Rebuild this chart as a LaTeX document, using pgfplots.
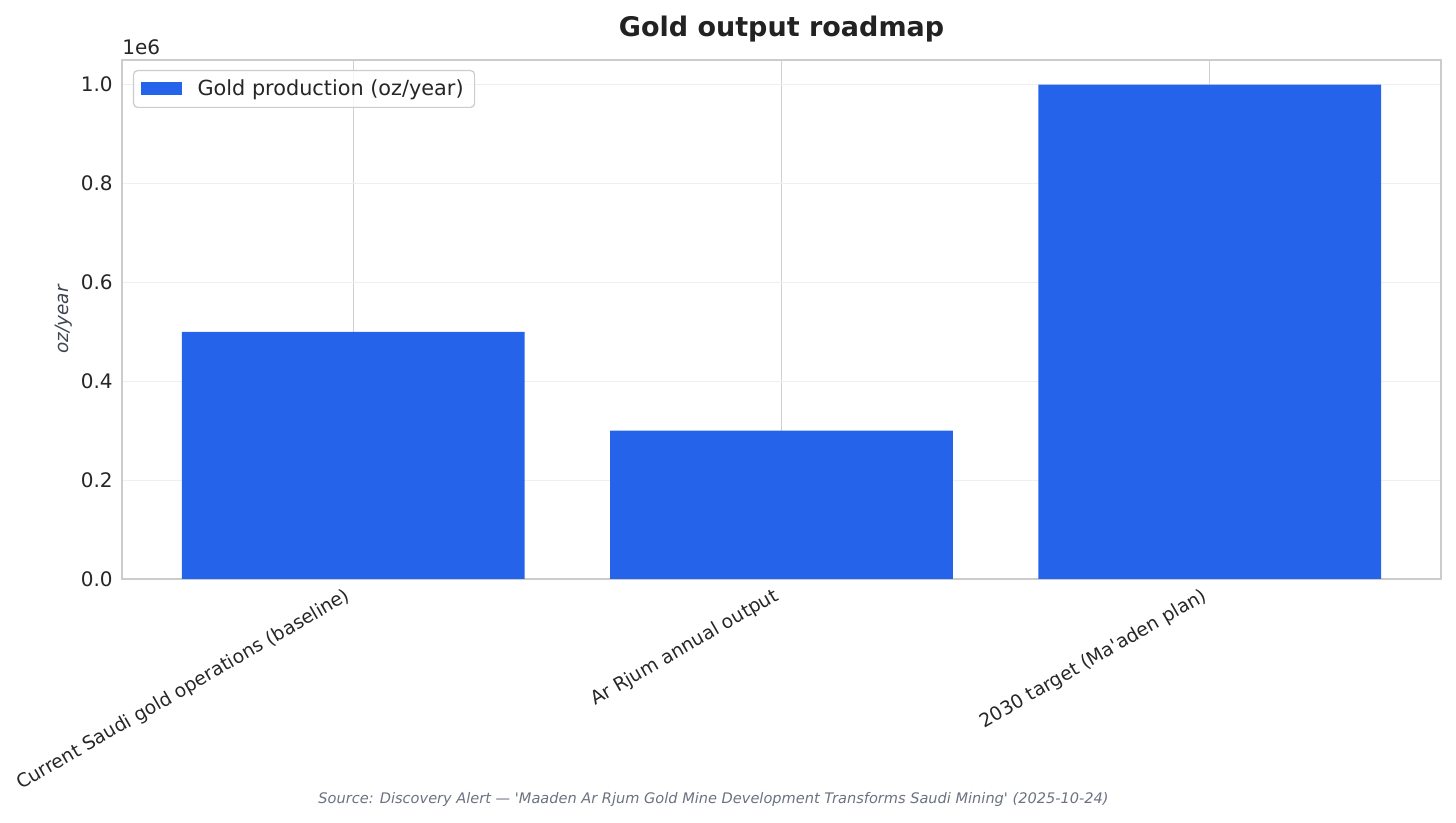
\documentclass[border=0pt]{standalone}
\usepackage{pgfplots}
\pgfplotsset{compat=1.18}
\usepackage{fontspec}
\setmainfont{DejaVu Sans}
\definecolor{barblue}{HTML}{2563EB}
\definecolor{gridx}{HTML}{D0D0D0}
\definecolor{gridy}{HTML}{EFEFEF}
\definecolor{framecol}{HTML}{CCCCCC}
\definecolor{textcol}{HTML}{262626}
\definecolor{titlecol}{HTML}{222222}
\definecolor{labelcol}{HTML}{3F4451}
\definecolor{sourcecol}{HTML}{6B7280}
\begin{document}
\begin{tikzpicture}
\path[use as bounding box] (0,0) rectangle (728pt,411.5pt);
\begin{axis}[
  at={(61pt,122pt)}, anchor=south west,
  scale only axis, width=659.5pt, height=259.5pt,
  clip=false,
  xmin=-0.54, xmax=2.54, ymin=0, ymax=1050000,
  ybar, bar width=0.8,
  xtick={0,1,2},
  xticklabels={Current Saudi gold operations (baseline),Ar Rjum annual output,2030 target (Ma\textquotesingle aden plan)},
  ytick={0,200000,400000,600000,800000,1000000},
  yticklabels={0.0,0.2,0.4,0.6,0.8,1.0},
  scaled y ticks=false,
  major tick length=0pt,
  xmajorgrids, ymajorgrids,
  major x grid style={color=gridx, line width=0.6pt},
  major y grid style={color=gridy, line width=0.6pt},
  axis line style={color=framecol, line width=0.65pt},
  yticklabel style={font=\fontsize{10}{12}\selectfont, text=textcol, inner sep=0pt, anchor=east, xshift=-4.5pt},
  xticklabel style={font=\fontsize{9.4}{11}\selectfont, text=textcol, inner sep=0pt, rotate=30, anchor=north east, xshift=-5.75pt, yshift=-1pt},
  ylabel={oz/year},
  ylabel style={at={(axis description cs:-0.0440,0.5)}, anchor=center, font=\itshape\fontsize{9.2}{11}\selectfont, text=labelcol},
  legend style={at={(rel axis cs:0,1)}, anchor=north west, xshift=5.5pt, yshift=-5pt,
    draw=framecol, fill=white, fill opacity=0.8, text opacity=1, rounded corners=2pt,
    line width=0.6pt, font=\fontsize{10.4}{12}\selectfont, text=textcol,
    inner xsep=3.5pt, inner ysep=2.5pt, cells={anchor=west}},
  legend image code/.code={\fill[#1, fill opacity=1, sharp corners] (0pt,-3.25pt) rectangle (20.5pt,3.25pt); \path (0pt,0pt) (26.5pt,0pt);},
]
\addplot[fill=barblue, draw=none] coordinates {(0,500000) (1,300000) (2,1000000)};
\addlegendentry{Gold production (oz/year)}
\node[anchor=base, font=\bfseries\fontsize{13.5}{16}\selectfont, text=titlecol, yshift=11.5pt] at (rel axis cs:0.5,1) {Gold output roadmap};
\node[anchor=base west, inner sep=0pt, font=\fontsize{10}{12}\selectfont, text=textcol, yshift=2.75pt] at (rel axis cs:0,1) {1e6};
\end{axis}
\node[anchor=base, inner sep=0pt, font=\itshape\fontsize{7.28}{8}\selectfont, text=sourcecol] at (356.75pt,9.5pt) {Source: Discovery Alert --- \textquotesingle Maaden Ar Rjum Gold Mine Development Transforms Saudi Mining\textquotesingle\ (2025-10-24)};
\end{tikzpicture}
\end{document}
